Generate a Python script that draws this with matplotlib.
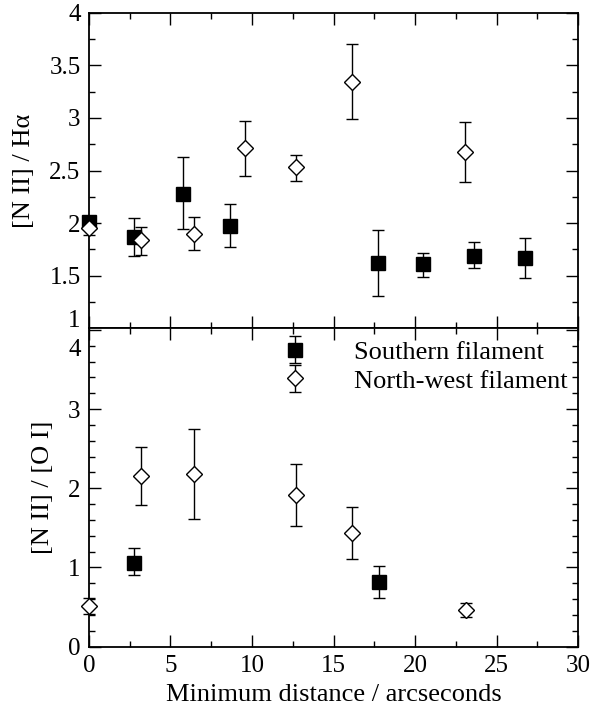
import matplotlib
matplotlib.use('Agg')
import matplotlib.pyplot as plt
import matplotlib.transforms as mtransforms
from matplotlib.ticker import MultipleLocator

# [N II]/Halpha ratios
s_x_ha = [0.0, 2.76, 5.75, 8.65, 17.75, 20.5, 23.6, 26.77]
s_ha = [2.01, 1.87, 2.28, 1.97, 1.62, 1.61, 1.69, 1.67]
s_ha_lo = [0.06, 0.18, 0.34, 0.20, 0.31, 0.12, 0.12, 0.19]
s_ha_hi = [0.06, 0.18, 0.35, 0.21, 0.31, 0.11, 0.13, 0.19]

nw_x_ha = [0.0, 3.19, 6.46, 9.57, 12.7, 16.15, 23.07]
nw_ha = [1.95, 1.84, 1.90, 2.71, 2.53, 3.34, 2.68]
nw_ha_lo = [0.06, 0.14, 0.16, 0.26, 0.13, 0.35, 0.29]
nw_ha_hi = [0.06, 0.12, 0.16, 0.26, 0.12, 0.36, 0.28]

# [N II]/[O I] ratios
s_x_oi = [2.76, 17.8]
s_oi = [1.06, 0.82]
s_oi_lo = [0.16, 0.20]
s_oi_hi = [0.18, 0.20]

nw_x_oi = [0.0, 3.19, 6.46, 12.7, 16.15, 23.1]
nw_oi = [0.51, 2.15, 2.18, 1.92, 1.44, 0.46]
nw_oi_lo = [0.10, 0.36, 0.57, 0.40, 0.33, 0.09]
nw_oi_hi = [0.10, 0.37, 0.57, 0.38, 0.32, 0.09]

plt.rcParams['font.family'] = ['Liberation Serif', 'DejaVu Serif']
plt.rcParams['mathtext.fontset'] = 'stix'

fig = plt.figure(figsize=(6.01, 7.12), dpi=100)
ax1 = fig.add_axes([0.148, 0.539, 0.814, 0.443])
ax2 = fig.add_axes([0.148, 0.0917, 0.814, 0.4473], sharex=ax1)

sq = dict(fmt='s', ms=9.4, mfc='black', mec='black', ecolor='black',
          elinewidth=1.0, capsize=4.6, capthick=1.0, clip_on=False, zorder=3)
dm = dict(fmt='D', ms=8.6, mfc='white', mec='black', mew=1.0, ecolor='black',
          elinewidth=1.0, capsize=4.6, capthick=1.0, clip_on=False, zorder=3)

ax1.errorbar(s_x_ha, s_ha, yerr=[s_ha_lo, s_ha_hi], **sq)
ax1.errorbar(nw_x_ha, nw_ha, yerr=[nw_ha_lo, nw_ha_hi], **dm)

e1 = ax2.errorbar(s_x_oi, s_oi, yerr=[s_oi_lo, s_oi_hi], **sq)
e2 = ax2.errorbar(nw_x_oi, nw_oi, yerr=[nw_oi_lo, nw_oi_hi], **dm)

ax1.set_xlim(0, 30)
ax1.set_ylim(1, 4)
ax2.set_ylim(0, 4.02)

ax1.yaxis.set_major_locator(MultipleLocator(0.5))
ax1.yaxis.set_minor_locator(MultipleLocator(0.25))
ax2.yaxis.set_major_locator(MultipleLocator(1))
ax2.yaxis.set_minor_locator(MultipleLocator(0.2))
ax2.xaxis.set_major_locator(MultipleLocator(5))
ax2.xaxis.set_minor_locator(MultipleLocator(2.5))
ax1.yaxis.set_major_formatter(plt.FuncFormatter(lambda v, p: '%g' % v))

for ax in (ax1, ax2):
    for sp in ax.spines.values():
        sp.set_linewidth(1.3)
    ax.tick_params(which='both', direction='in', top=True, right=True,
                   width=1.0, labelsize=18)
    ax.tick_params(which='major', length=8.5, pad=6)
    ax.tick_params(which='minor', length=4.3)
ax1.tick_params(labelbottom=False)

ax1.set_ylabel('[N II] / H\u03b1', fontsize=19, labelpad=10)
ax2.set_ylabel('[N II] / [O I]', fontsize=19, labelpad=10)
ax2.set_xlabel('Minimum distance / arcseconds', fontsize=19, labelpad=5)

# keep the 1 and 4 labels at the panel join from colliding
fig.canvas.draw()
for lab in ax1.get_yticklabels():
    if lab.get_text() == '1':
        lab.set_transform(lab.get_transform() +
                          mtransforms.ScaledTranslation(0, 7 / 72, fig.dpi_scale_trans))
for lab in ax2.get_yticklabels():
    if lab.get_text() == '4':
        lab.set_transform(lab.get_transform() +
                          mtransforms.ScaledTranslation(0, -13 / 72, fig.dpi_scale_trans))

ax2.legend([e1, e2], ['Southern filament', 'North-west filament'],
           loc='upper left', bbox_to_anchor=(0.38, 0.962), frameon=False,
           fontsize=19, borderpad=0, borderaxespad=0, handlelength=1.5,
           handletextpad=1.5, labelspacing=0.2)

fig.savefig('out.png', dpi=100)
